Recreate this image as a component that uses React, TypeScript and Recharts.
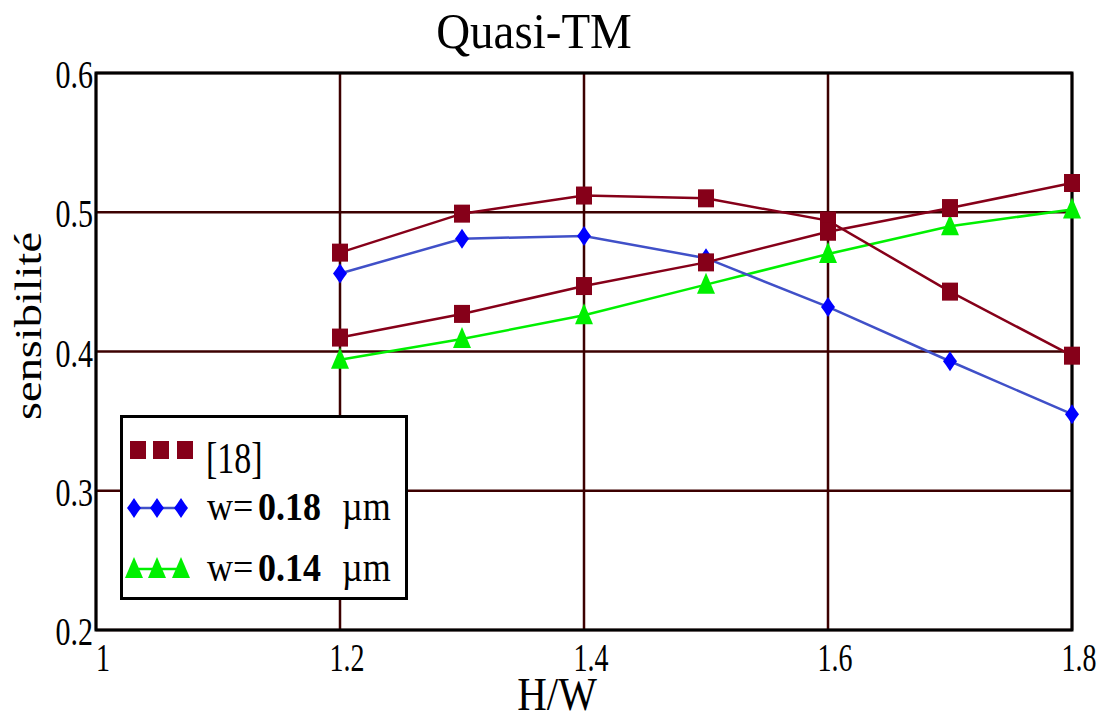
import { LineChart, Line, XAxis, YAxis, CartesianGrid, ReferenceArea } from 'recharts';

// H/W values shared by every curve
const hw = [1.2, 1.3, 1.4, 1.5, 1.6, 1.7, 1.8];
// [18] has two curves
const ref18Upper = [0.471, 0.499, 0.512, 0.51, 0.494, 0.443, 0.397];
const ref18Lower = [0.41, 0.427, 0.447, 0.464, 0.486, 0.503, 0.521];
const w018 = [0.456, 0.481, 0.483, 0.467, 0.432, 0.393, 0.355];
const w014 = [0.394, 0.409, 0.426, 0.448, 0.47, 0.49, 0.502];

const xTicks = [1, 1.2, 1.4, 1.6, 1.8];
const yTicks = [0.2, 0.3, 0.4, 0.5, 0.6];

const FONT = '"Liberation Serif", "DejaVu Serif", serif';
const RED = '#860019';
const BLUE_DOT = '#0000ff';
const BLUE_LINE = '#4050c8';
const GREEN = '#00f000';
const GRID = '#3c0000';

const data = hw.map((x, i) => ({
  hw: x,
  a: ref18Upper[i],
  b: ref18Lower[i],
  w18: w018[i],
  w14: w014[i],
}));

const Square = (cx: number, cy: number, key?: any) => (
  <rect key={key} x={cx - 8} y={cy - 9} width={16} height={18} fill={RED} />
);
const Diamond = (cx: number, cy: number, key?: any) => (
  <path
    key={key}
    d={`M${cx},${cy - 10} L${cx + 4},${cy - 4} L${cx + 7},${cy} L${cx + 4},${cy + 4} L${cx},${cy + 10} L${cx - 4},${cy + 4} L${cx - 7},${cy} L${cx - 4},${cy - 4} Z`}
    fill={BLUE_DOT}
  />
);
const Triangle = (cx: number, cy: number, key?: any) => (
  <path key={key} d={`M${cx},${cy - 12} L${cx + 9},${cy + 9} L${cx - 9},${cy + 9} Z`} fill={GREEN} />
);

const legendItems = [
  { label: '[18]', marker: Square, color: RED, line: false },
  { label: 'w=', bold: '0.18', unit: 'µm', marker: Diamond, color: BLUE_LINE, line: true },
  { label: 'w=', bold: '0.14', unit: 'µm', marker: Triangle, color: GREEN, line: true },
];

const rowY = [35, 93, 154];

function LegendBox() {
  return (
    <svg width={288} height={185} style={{ position: 'absolute', left: 120, top: 415 }}>
      <rect x={1.5} y={1.5} width={285} height={182} fill="#fff" stroke="#000" strokeWidth={3} />
      {legendItems.map((it, i) => {
        const y = rowY[i];
        const xs = i === 0 ? [18, 41, 65] : [14, 37, 61];
        return (
          <g key={i}>
            {it.line && <line x1={xs[0]} y1={y} x2={xs[2]} y2={y} stroke={it.color} strokeWidth={2.5} />}
            {xs.map((x, j) => it.marker(x, y, j))}
            {it.bold ? (
              <g fontFamily={FONT} fill="#000">
                <text transform={`translate(87,${y + 12}) scale(1,1.1)`} fontSize={36}>{it.label}</text>
                <text transform={`translate(138,${y + 12}) scale(1,1.1)`} fontSize={36} fontWeight="bold">{it.bold}</text>
                <text transform={`translate(222,${y + 12}) scale(1,1.1)`} fontSize={36}>{it.unit}</text>
              </g>
            ) : (
              <text transform={`translate(86,${y + 23}) scale(1,1.3)`} fontSize={34} fontFamily={FONT} fill="#000">{it.label}</text>
            )}
          </g>
        );
      })}
    </svg>
  );
}

const YTick = (props: any) => {
  const { x, y, payload } = props;
  return (
    <text transform={`translate(${x},${y + 15}) scale(1,1.3)`} textAnchor="end" fontSize={30} fontFamily={FONT} fill="#000">
      {Number(payload.value).toFixed(1)}
    </text>
  );
};

const XTick = (props: any) => {
  const { x, y, payload } = props;
  return (
    <text transform={`translate(${x + 7},${y + 41}) scale(1,1.45)`} textAnchor="middle" fontSize={28} fontFamily={FONT} fill="#000">
      {String(payload.value)}
    </text>
  );
};

export default function App() {
  return (
    <div style={{ position: 'absolute', left: 0, top: 0, width: 1104, height: 720, background: '#fff' }}>
      <LineChart width={1104} height={720} data={data} margin={{ top: 73, right: 32, bottom: 30, left: 0 }}>
        <CartesianGrid stroke={GRID} strokeWidth={2.5} />
        <XAxis
          dataKey="hw"
          type="number"
          domain={[1, 1.8]}
          ticks={xTicks}
          height={60}
          axisLine={false}
          tickLine={false}
          tickSize={0}
          tickMargin={0}
          tick={XTick}
          label={{
            content: () => (
              <text transform="translate(557,710) scale(1,1.15)" textAnchor="middle" fontSize={41} fontFamily={FONT} fill="#000">
                H/W
              </text>
            ),
          }}
        />
        <YAxis
          type="number"
          domain={[0.2, 0.6]}
          ticks={yTicks}
          width={96}
          axisLine={false}
          tickLine={false}
          tickSize={0}
          tickMargin={3}
          tick={YTick}
          label={{
            content: () => (
              <text transform="translate(41,326) rotate(-90) scale(1.22,1)" textAnchor="middle" fontSize={38} fontFamily={FONT} fill="#000">
                sensibilité
              </text>
            ),
          }}
        />
        <ReferenceArea x1={1} x2={1.8} y1={0.2} y2={0.6} fill="none" fillOpacity={0} stroke="#000" strokeWidth={3} ifOverflow="visible" />
        <Line
          dataKey="w14"
          type="linear"
          stroke={GREEN}
          strokeWidth={2.5}
          dot={(p: any) => Triangle(p.cx, p.cy, p.index)}
          isAnimationActive={false}
        />
        <Line
          dataKey="w18"
          type="linear"
          stroke={BLUE_LINE}
          strokeWidth={2.5}
          dot={(p: any) => Diamond(p.cx, p.cy, p.index)}
          isAnimationActive={false}
        />
        <Line
          dataKey="a"
          type="linear"
          stroke={RED}
          strokeWidth={2.5}
          dot={(p: any) => Square(p.cx, p.cy, p.index)}
          isAnimationActive={false}
        />
        <Line
          dataKey="b"
          type="linear"
          stroke={RED}
          strokeWidth={2.5}
          dot={(p: any) => Square(p.cx, p.cy, p.index)}
          isAnimationActive={false}
        />
      </LineChart>
      <LegendBox />
      <svg width={1104} height={70} style={{ position: 'absolute', left: 0, top: 0, pointerEvents: 'none' }}>
        <text transform="translate(534,48) scale(1,1.1)" textAnchor="middle" fontSize={47} fontFamily={FONT} fill="#000">
          Quasi-TM
        </text>
      </svg>
    </div>
  );
}
